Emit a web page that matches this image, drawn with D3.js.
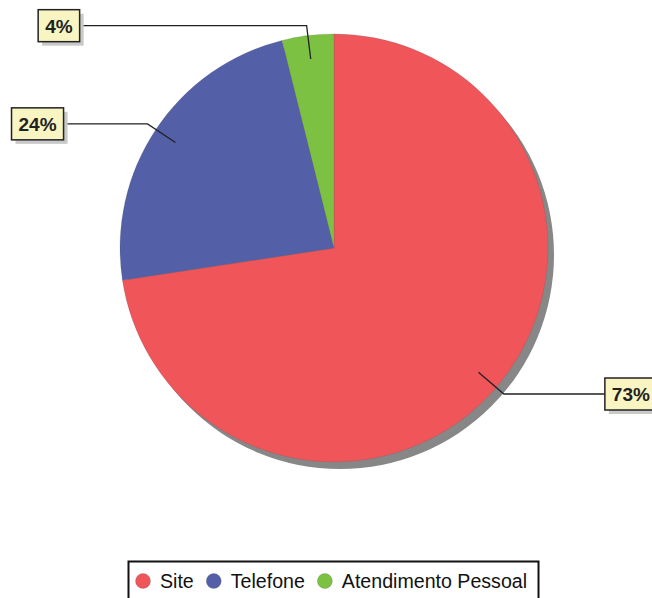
<!DOCTYPE html>
<html><head><meta charset="utf-8">
<script src="https://cdn.jsdelivr.net/npm/d3@7"></script>
<style>html,body{margin:0;padding:0;background:#fff;}svg{display:block;}</style>
</head><body>
<svg id="chart" width="652" height="598"></svg>
<script>
const categories = ["Site", "Telefone", "Atendimento Pessoal"];
const values = [72.6, 23.5, 3.9];
const labels = ["73%", "24%", "4%"];
const colors = ["#f0555a", "#5360a8", "#7dc142"];

// layout (not data)
const cx = 334, cy = 248, R = 214;
const labelLen = [101, 84, 227]; // horizontal leader length
const font = "'Liberation Sans', Arial, sans-serif";

const svg = d3.select("#chart");
const g = svg.append("g").attr("transform", `translate(${cx},${cy})`);

const pie = d3.pie().sort(null).value(d => d)(values);
const arc = d3.arc().innerRadius(0).outerRadius(R);

// shadow
g.append("circle").attr("cx", 6).attr("cy", 7).attr("r", R).attr("fill", "#878787");

g.selectAll("path.slice").data(pie).join("path")
  .attr("class", "slice")
  .attr("d", arc)
  .attr("fill", (d, i) => colors[i])
  .attr("stroke", "rgba(90,90,90,0.35)")
  .attr("stroke-width", 0.6);

// leader lines & labels
pie.forEach((d, i) => {
  const a = (d.startAngle + d.endAngle) / 2;
  const p0 = [Math.sin(a) * R * 0.89, -Math.cos(a) * R * 0.89];
  const p1 = [Math.sin(a) * (R + 10), -Math.cos(a) * (R + 10)];
  const right = Math.sin(a) > 0;
  const p2 = [p1[0] + (right ? labelLen[i] : -labelLen[i]), p1[1]];
  g.append("polyline")
    .attr("points", [p0, p1, p2].map(p => p.join(",")).join(" "))
    .attr("fill", "none").attr("stroke", "#222").attr("stroke-width", 1.3);

  const lg = g.append("g");
  const txt = lg.append("text").text(labels[i])
    .attr("font-family", font).attr("font-size", 19).attr("font-weight", "bold")
    .attr("fill", "#222");
  const w = txt.node().getComputedTextLength();
  const bw = w + 14, bh = 32;
  const bx = right ? p2[0] : p2[0] - bw;
  const by = p2[1] - bh / 2;
  lg.insert("rect", "text").attr("x", bx + 4).attr("y", by + 4).attr("width", bw).attr("height", bh).attr("fill", "#c9c9c9");
  lg.insert("rect", "text").attr("x", bx).attr("y", by).attr("width", bw).attr("height", bh)
    .attr("fill", "#f8f5c2").attr("stroke", "#222").attr("stroke-width", 1.5);
  txt.attr("x", bx + bw / 2).attr("y", by + bh / 2 + 7).attr("text-anchor", "middle");
});

// legend
const leg = svg.append("g");
let x = 143;
const ly = 581;
categories.forEach((c, i) => {
  leg.append("circle").attr("cx", x).attr("cy", ly).attr("r", 7.5).attr("fill", colors[i])
    .attr("stroke", "rgba(80,80,80,0.4)").attr("stroke-width", 0.6);
  const t = leg.append("text").attr("x", x + 17).attr("y", ly + 7).text(c)
    .attr("font-family", font).attr("font-size", 19.6).attr("fill", "#111");
  x += 17 + t.node().getComputedTextLength() + 20;
});
leg.insert("rect", ":first-child").attr("x", 128.5).attr("y", 561.5).attr("width", 410).attr("height", 45)
  .attr("fill", "#fff").attr("stroke", "#111").attr("stroke-width", 2);
</script>
</body></html>
